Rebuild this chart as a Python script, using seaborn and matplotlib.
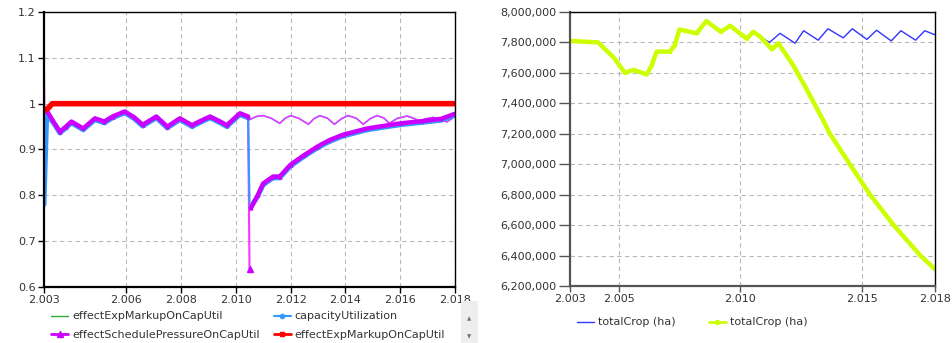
import numpy as np
import pandas as pd
import matplotlib
matplotlib.use("Agg")
import matplotlib.pyplot as plt
from matplotlib.lines import Line2D
from matplotlib.patches import Rectangle
from matplotlib.ticker import FuncFormatter
import seaborn as sns

# --- DATA ---
# left panel: shared run up to the shock in mid 2010
pre_years = [2003.0, 2003.1, 2003.3, 2003.58, 2003.8, 2004.0, 2004.43, 2004.86, 2005.2,
             2005.5, 2005.95, 2006.3, 2006.6, 2007.1, 2007.5, 2007.96, 2008.4, 2008.7,
             2009.06, 2009.4, 2009.67, 2010.15, 2010.45]
sched_pre = [1.115, 0.985, 0.965, 0.939, 0.950, 0.961, 0.946, 0.968, 0.961,
             0.972, 0.983, 0.970, 0.954, 0.972, 0.950, 0.968, 0.953, 0.962,
             0.972, 0.962, 0.953, 0.979, 0.972]
capu_pre = [0.780, 0.975, 0.962, 0.936, 0.947, 0.958, 0.943, 0.965, 0.958,
            0.969, 0.980, 0.967, 0.951, 0.969, 0.947, 0.965, 0.950, 0.959,
            0.969, 0.959, 0.950, 0.976, 0.969]

# shock run (thick lines)
shock_years = [2010.5, 2010.55, 2010.8, 2011.0, 2011.36, 2011.6, 2012.0, 2012.5, 2012.97,
               2013.4, 2013.9, 2014.8, 2016.0, 2016.8, 2017.5, 2018.0]
sched_shock = [0.640, 0.772, 0.800, 0.826, 0.841, 0.841, 0.867, 0.888, 0.906,
               0.920, 0.932, 0.946, 0.957, 0.962, 0.967, 0.978]
capu_shock = [0.785, 0.775, 0.798, 0.823, 0.838, 0.838, 0.864, 0.885, 0.903,
              0.917, 0.929, 0.943, 0.954, 0.959, 0.964, 0.975]

# base run after 2010.5 (thin lines)
base_years = [2010.5, 2010.75, 2011.0, 2011.3, 2011.6, 2011.8, 2012.0, 2012.3, 2012.65,
              2012.85, 2013.07, 2013.35, 2013.6, 2013.85, 2014.1, 2014.4, 2014.65,
              2014.9, 2015.15, 2015.4, 2015.6, 2015.9, 2016.25, 2016.5, 2016.7,
              2016.95, 2017.2, 2017.45, 2017.7, 2017.85, 2018.0]
sched_base = [0.965, 0.972, 0.974, 0.968, 0.957, 0.968, 0.974, 0.968, 0.955,
              0.967, 0.974, 0.968, 0.955, 0.967, 0.974, 0.968, 0.955,
              0.967, 0.974, 0.969, 0.957, 0.968, 0.973, 0.968, 0.962,
              0.967, 0.970, 0.966, 0.960, 0.966, 0.973]

markup_years = [2003.0, 2003.15, 2003.3, 2018.0]
markup_vals = [0.985, 0.990, 1.000, 1.000]

left_xticks = [2003, 2006, 2008, 2010, 2012, 2014, 2016, 2018]
left_xlabels = ["2.003", "2.006", "2.008", "2.010", "2.012", "2.014", "2.016", "2.018"]
left_yticks = [0.6, 0.7, 0.8, 0.9, 1.0, 1.1, 1.2]
left_ylabels = ["0.6", "0.7", "0.8", "0.9", "1", "1.1", "1.2"]

# right panel: total crop area (ha)
crop_years = [2003.0, 2004.16, 2004.8, 2005.26, 2005.6, 2006.15, 2006.36, 2006.56, 2007.1,
              2007.3, 2007.5, 2008.2, 2008.6, 2009.2, 2009.58, 2010.26, 2010.53, 2010.8,
              2011.3, 2011.56, 2012.17, 2012.7, 2013.4, 2013.68, 2014.5, 2015.33,
              2016.3, 2017.4, 2018.0]
crop_shock = [7810000, 7800000, 7700000, 7600000, 7620000, 7590000, 7650000, 7740000, 7740000,
              7780000, 7885000, 7860000, 7940000, 7870000, 7910000, 7825000, 7870000, 7840000,
              7755000, 7795000, 7650000, 7500000, 7290000, 7200000, 7000000, 6800000,
              6600000, 6400000, 6310000]
base_crop_years = [2010.8, 2011.2, 2011.63, 2012.25, 2012.6, 2013.2, 2013.6, 2014.23, 2014.6,
                   2015.2, 2015.6, 2016.2, 2016.6, 2017.2, 2017.58, 2018.0]
crop_base = [7840000, 7800000, 7860000, 7795000, 7877000, 7815000, 7890000, 7830000, 7890000,
             7820000, 7880000, 7810000, 7877000, 7815000, 7877000, 7850000]

right_xticks = [2003, 2005, 2010, 2015, 2018]
right_xlabels = ["2.003", "2.005", "2.010", "2.015", "2.018"]

# --- STYLE ---
sns.set_style("white")
plt.rcParams['font.family'] = ['DejaVu Sans']
TXT = "#333333"
MAG = "#cc00ff"
MAG_THIN = "#ff33ff"
BLUE_L = "#3399ff"
RED = "#ff0000"
GREEN = "#33aa33"
BLUE_R = "#3333ff"
LIME = "#ccff00"
FS = 8

fig = plt.figure(figsize=(9.53, 3.43), dpi=100)
ax1 = fig.add_axes([44 / 953, 56 / 343, 411 / 953, 275 / 343])
ax2 = fig.add_axes([570 / 953, 57 / 343, 365 / 953, 274 / 343])


def style_axes(ax, side_color):
    ax.grid(True, color="#b8b8b8", linestyle=(0, (4, 3)), linewidth=0.8)
    ax.set_axisbelow(True)
    for s in ["left", "bottom"]:
        ax.spines[s].set_color(side_color)
        ax.spines[s].set_linewidth(1.6)
    for s in ["top", "right"]:
        ax.spines[s].set_color("black")
        ax.spines[s].set_linewidth(1.0)
    ax.tick_params(axis="both", direction="out", length=4, width=1, color=side_color,
                   labelsize=FS, labelcolor=TXT, pad=2, left=True, bottom=True)
    ax.set_xlabel("")
    ax.set_ylabel("")


# Plot A: capacity utilisation effects
df_pre = pd.DataFrame({"t": pre_years, "sched": sched_pre, "capu": capu_pre})
df_shock = pd.DataFrame({"t": shock_years, "sched": sched_shock, "capu": capu_shock})
df_base = pd.DataFrame({"t": base_years, "sched": sched_base})
df_mark = pd.DataFrame({"t": markup_years, "v": markup_vals})

sns.lineplot(data=df_mark, x="t", y="v", ax=ax1, color=GREEN, lw=1)
sns.lineplot(data=df_base, x="t", y="sched", ax=ax1, color=BLUE_L, lw=1.2)
sns.lineplot(data=df_base, x="t", y="sched", ax=ax1, color=MAG_THIN, lw=1)
# thin vertical drop lines at the shock
ax1.plot([2010.45, 2010.5], [0.972, 0.64], color=MAG_THIN, lw=1.5)
ax1.plot([2010.45, 2010.5], [0.969, 0.785], color=BLUE_L, lw=1.5)
sns.lineplot(data=df_pre, x="t", y="capu", ax=ax1, color=BLUE_L, lw=3.5,
             marker="o", markersize=2.5, markeredgewidth=0)
sns.lineplot(data=df_shock.iloc[1:], x="t", y="capu", ax=ax1, color=BLUE_L, lw=3.5,
             marker="o", markersize=2.5, markeredgewidth=0)
ax1.plot([2003.0, 2003.02], [1.115, 0.99], color=MAG_THIN, lw=1.2)
sns.lineplot(data=df_pre.iloc[1:], x="t", y="sched", ax=ax1, color=MAG, lw=3.2,
             marker="^", markersize=3, markeredgewidth=0)
sns.lineplot(data=df_shock.iloc[1:], x="t", y="sched", ax=ax1, color=MAG, lw=3.2,
             marker="^", markersize=3, markeredgewidth=0)
ax1.plot([2010.5], [0.64], marker="^", color=MAG, markersize=5)
sns.lineplot(data=df_mark, x="t", y="v", ax=ax1, color=RED, lw=4,
             marker="s", markersize=2.5, markeredgewidth=0)

ax1.set_xlim(2003, 2018)
ax1.set_ylim(0.6, 1.2)
ax1.set_xticks(left_xticks, left_xlabels)
ax1.set_yticks(left_yticks, left_ylabels)
style_axes(ax1, "black")

# Plot B: total crop area
df_crop = pd.DataFrame({"t": crop_years, "v": crop_shock})
df_cbase = pd.DataFrame({"t": base_crop_years, "v": crop_base})
sns.lineplot(data=df_cbase, x="t", y="v", ax=ax2, color=BLUE_R, lw=1)
sns.lineplot(data=df_crop, x="t", y="v", ax=ax2, color=LIME, lw=3.2,
             marker="o", markersize=2.5, markeredgewidth=0)
ax2.set_xlim(2003, 2018)
ax2.set_ylim(6200000, 8000000)
ax2.set_xticks(right_xticks, right_xlabels)
ax2.set_yticks(np.arange(6200000, 8000001, 200000))
ax2.yaxis.set_major_formatter(FuncFormatter(lambda v, p: f"{v:,.0f}"))
style_axes(ax2, "#555555")
ax2.tick_params(axis="y", length=8)

# legends
h_left = [Line2D([], [], color=GREEN, lw=1),
          Line2D([], [], color=MAG, lw=2, marker="^", markersize=4),
          Line2D([], [], color=BLUE_L, lw=1.5, marker="o", markersize=3),
          Line2D([], [], color=RED, lw=2, marker="s", markersize=3)]
l_left = ["effectExpMarkupOnCapUtil", "effectSchedulePressureOnCapUtil",
          "capacityUtilization", "effectExpMarkupOnCapUtil"]
leg1 = fig.legend(h_left, l_left, ncol=2, loc="upper left",
                  bbox_to_anchor=(47 / 953, 1 - 307 / 343), frameon=False,
                  fontsize=FS, handlelength=1.5, handletextpad=0.35,
                  columnspacing=1.3, labelspacing=0.75, borderaxespad=0)
for t in leg1.get_texts():
    t.set_color(TXT)

h_right = [Line2D([], [], color=BLUE_R, lw=1),
           Line2D([], [], color=LIME, lw=2, marker="o", markersize=3)]
leg2 = fig.legend(h_right, ["totalCrop (ha)", "totalCrop (ha)"], ncol=2, loc="upper left",
                  bbox_to_anchor=(573 / 953, 1 - 313 / 343), frameon=False,
                  fontsize=FS, handlelength=1.5, handletextpad=0.35,
                  columnspacing=3.0, borderaxespad=0)
for t in leg2.get_texts():
    t.set_color(TXT)

# little scroll bar next to the left legend
fig.patches.append(Rectangle((461 / 953, 0), 17 / 953, 42 / 343, transform=fig.transFigure,
                             facecolor="#eeeeee", edgecolor="none", zorder=0))
fig.text(469.5 / 953, 1 - 319 / 343, "\u25b2", fontsize=4, color="#777777", ha="center", va="center")
fig.text(469.5 / 953, 1 - 337 / 343, "\u25bc", fontsize=4, color="#777777", ha="center", va="center")

plt.savefig("out.png", dpi=100)
